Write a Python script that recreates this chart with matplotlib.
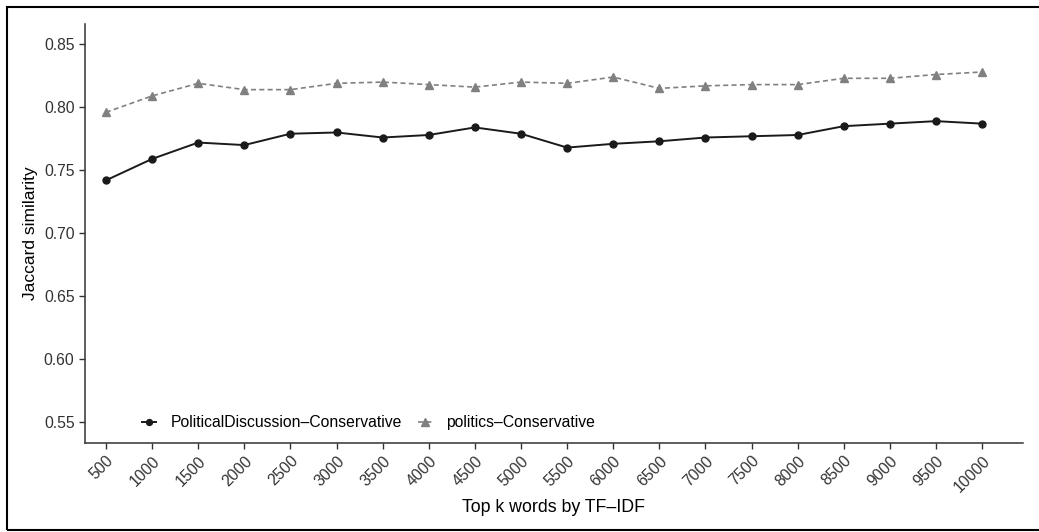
import matplotlib.pyplot as plt
from matplotlib.patches import Rectangle

plt.rcParams['font.family'] = ['Liberation Sans', 'DejaVu Sans']

# Top k words by TF-IDF
top_k = [500, 1000, 1500, 2000, 2500, 3000, 3500, 4000, 4500, 5000,
         5500, 6000, 6500, 7000, 7500, 8000, 8500, 9000, 9500, 10000]

# Jaccard similarity
pd_conservative = [0.742, 0.759, 0.772, 0.770, 0.779, 0.780, 0.776, 0.778, 0.784, 0.779,
                   0.768, 0.771, 0.773, 0.776, 0.777, 0.778, 0.785, 0.787, 0.789, 0.787]
politics_conservative = [0.796, 0.809, 0.819, 0.814, 0.814, 0.819, 0.820, 0.818, 0.816, 0.820,
                         0.819, 0.824, 0.815, 0.817, 0.818, 0.818, 0.823, 0.823, 0.826, 0.828]

y_ticks = [0.55, 0.60, 0.65, 0.70, 0.75, 0.80, 0.85]


def main():
    fig = plt.figure(figsize=(10.39, 5.32), dpi=100)
    ax = fig.add_axes([0.0818, 0.1679, 0.9028, 0.787])

    ax.plot(top_k, pd_conservative, color='#1a1a1a', lw=1.4, marker='o', ms=5,
            label='PoliticalDiscussion\u2013Conservative')
    ax.plot(top_k, politics_conservative, color='#808080', lw=1.2, ls=(0, (3, 2)),
            marker='^', ms=6.3, label='politics\u2013Conservative')

    ax.set_xlim(273, 10443)
    ax.set_ylim(0.5338, 0.8661)
    ax.set_xticks(top_k)
    ax.set_xticklabels([str(k) for k in top_k], rotation=45, ha='right',
                       rotation_mode='anchor', fontsize=11.3, color='#333333')
    ax.set_yticks(y_ticks)
    ax.set_yticklabels([f'{v:.2f}' for v in y_ticks], fontsize=11.3, color='#333333')

    for side in ['top', 'right']:
        ax.spines[side].set_visible(False)
    for side in ['left', 'bottom']:
        ax.spines[side].set_linewidth(1.1)
        ax.spines[side].set_color('#333333')
    ax.tick_params(length=4, width=1, color='#333333')

    ax.set_xlabel('Top k words by TF\u2013IDF', fontsize=12.8, labelpad=3)
    ax.set_ylabel('Jaccard similarity', fontsize=12.5, labelpad=4)

    ax.legend(loc='center left', bbox_to_anchor=(0.046, 0.048), ncol=2, frameon=False,
              fontsize=11.3, handlelength=0.9, columnspacing=1.0, handletextpad=0.9,
              markerscale=0.85)

    # black frame around the figure
    fig.patches.append(Rectangle((7 / 1039, 2 / 532), 1.1, 523 / 532, transform=fig.transFigure,
                                 fill=False, edgecolor='black', lw=1.5))

    fig.savefig('out.png', dpi=100)


if __name__ == '__main__':
    main()
